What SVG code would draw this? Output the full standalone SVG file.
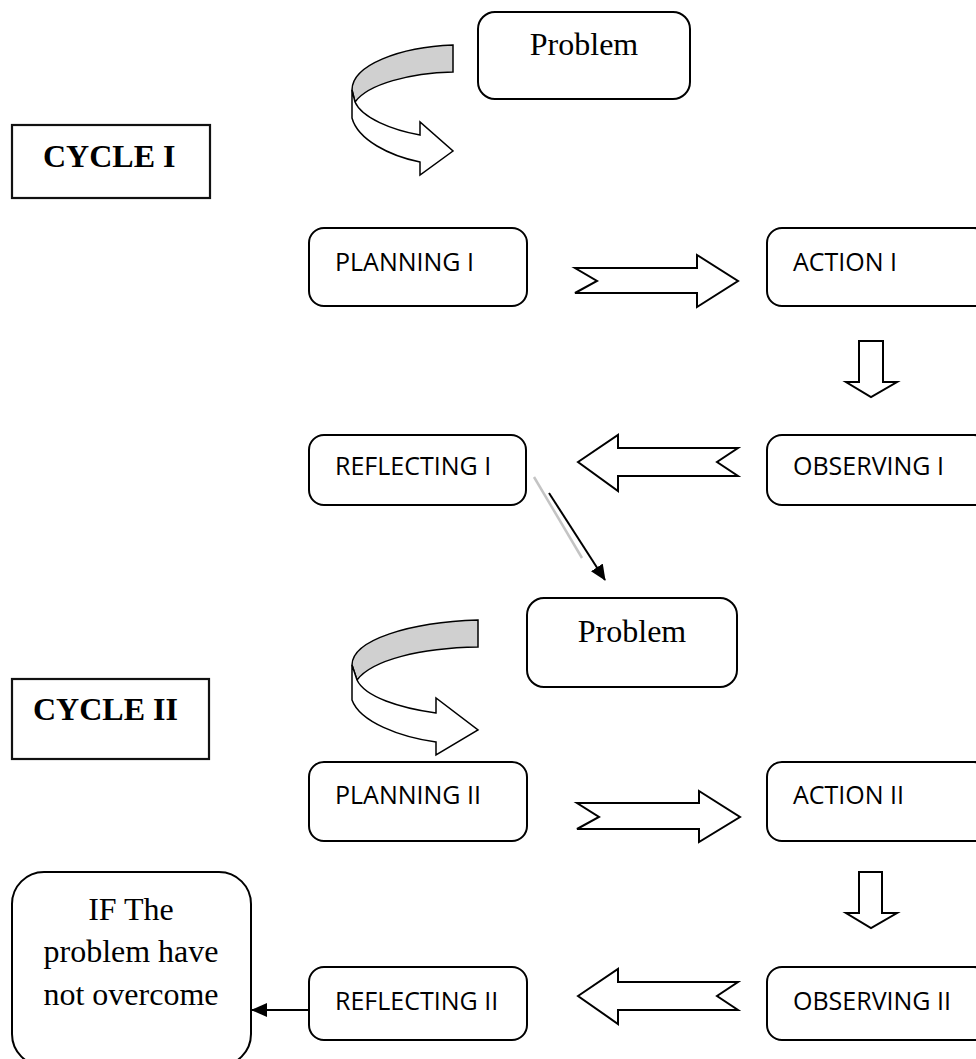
<svg xmlns="http://www.w3.org/2000/svg" width="976" height="1059" viewBox="0 0 976 1059">
<style>
.box{fill:#fff;stroke:#000;stroke-width:2}
.sq{fill:#fff;stroke:#111;stroke-width:2.2}
.lbl{font-family:"Open Sans","Noto Sans",sans-serif;font-size:25px;fill:#000}
.tnr{font-family:"Liberation Serif","Times New Roman",serif;font-size:32px;fill:#000}
.cyc{font-family:"Liberation Serif","Times New Roman",serif;font-size:32px;font-weight:bold;fill:#000}
.blk{fill:#fff;stroke:#000;stroke-width:2;stroke-linejoin:miter}
.band{fill:#d0d0d0;stroke:#000;stroke-width:1.5}
.rib{fill:#fff;stroke:#000;stroke-width:1.5}
</style>
<defs>
<marker id="ah" markerWidth="10" markerHeight="10" refX="9" refY="5" orient="auto" markerUnits="userSpaceOnUse" viewBox="0 0 10 10">
<path d="M0,0 L10,5 L0,10 Z" fill="#000"/>
</marker>
<marker id="ah2" markerWidth="16" markerHeight="14" refX="15" refY="7" orient="auto" markerUnits="userSpaceOnUse" viewBox="0 0 16 14">
<path d="M0,0 L16,7 L0,14 Z" fill="#000"/>
</marker>
</defs>

<g id="problem1">
<rect class="box" x="478" y="12" width="212" height="87" rx="17"/>
<text class="tnr" x="584" y="55" text-anchor="middle">Problem</text>
</g>
<g id="cycle1">
<rect class="sq" x="12" y="125" width="198" height="73"/>
<text class="cyc" x="43" y="167">CYCLE I</text>
</g>
<g id="planning1">
<rect class="box" x="309" y="228" width="218" height="78" rx="15"/>
<text class="lbl" x="335" y="271">PLANNING I</text>
</g>
<g id="action1">
<rect class="box" x="767" y="228" width="222" height="78" rx="15"/>
<text class="lbl" x="793" y="271">ACTION I</text>
</g>
<g id="reflecting1">
<rect class="box" x="309" y="435" width="217" height="70" rx="15"/>
<text class="lbl" x="335" y="475">REFLECTING I</text>
</g>
<g id="observing1">
<rect class="box" x="767" y="435" width="222" height="70" rx="15"/>
<text class="lbl" x="793" y="475">OBSERVING I</text>
</g>
<g id="problem2">
<rect class="box" x="527" y="598" width="210" height="89" rx="17"/>
<text class="tnr" x="632" y="642" text-anchor="middle">Problem</text>
</g>
<g id="cycle2">
<rect class="sq" x="12" y="679" width="197" height="80"/>
<text class="cyc" x="33" y="720">CYCLE II</text>
</g>
<g id="planning2">
<rect class="box" x="309" y="762" width="218" height="79" rx="15"/>
<text class="lbl" x="335" y="804">PLANNING II</text>
</g>
<g id="action2">
<rect class="box" x="767" y="762" width="222" height="79" rx="15"/>
<text class="lbl" x="793" y="804">ACTION II</text>
</g>
<g id="reflecting2">
<rect class="box" x="309" y="967" width="218" height="73" rx="15"/>
<text class="lbl" x="335" y="1010">REFLECTING II</text>
</g>
<g id="observing2">
<rect class="box" x="767" y="967" width="222" height="73" rx="15"/>
<text class="lbl" x="793" y="1010">OBSERVING II</text>
</g>
<g id="ifbox">
<rect class="box" x="12" y="872" width="239" height="194" rx="32"/>
<text class="tnr" x="131" y="920" text-anchor="middle">IF The</text>
<text class="tnr" x="131" y="962" text-anchor="middle">problem have</text>
<text class="tnr" x="131" y="1005" text-anchor="middle">not overcome</text>
</g>

<g id="connectors">
<!-- curved arrow 1 -->
<path class="band" d="M453,45 C400,47 352,65 352,90 L355,102 C368,84 410,73 453,72 Z"/>
<path class="rib" d="M352,90 L352,118 C358,140 390,156 420,162 L420,175 L453,151 L420,122 L420,135 C392,130 362,118 355,102 Z"/>
<!-- curved arrow 2 -->
<path class="band" d="M478,620 C410,622 352,640 352,665 L357,680 C372,660 420,648 478,647 Z"/>
<path class="rib" d="M352,665 L352,700 C360,722 400,737 436,742 L436,755 L478,730 L436,698 L436,713 C400,708 365,697 357,680 Z"/>
<!-- block arrows cycle 1 -->
<path class="blk" d="M575,268 L697,268 L697,255 L738,281 L697,307 L697,293 L575,293 L597,281 Z"/>
<path class="blk" d="M859,341 L883,341 L883,382 L897,382 L871,397 L846,382 L859,382 Z"/>
<path class="blk" d="M578,462 L618,435 L618,448 L738,448 L717,462 L738,476 L618,476 L618,491 Z"/>
<!-- diagonal arrow -->
<line x1="534" y1="477" x2="582" y2="558" stroke="#c4c4c4" stroke-width="2.5"/>
<line x1="549" y1="493" x2="605" y2="580" stroke="#000" stroke-width="2" marker-end="url(#ah2)"/>
<!-- block arrows cycle 2 -->
<path class="blk" d="M577,803 L699,803 L699,791 L740,817 L699,842 L699,829 L577,829 L599,817 Z"/>
<path class="blk" d="M859,872 L882,872 L882,913 L897,913 L871,928 L846,913 L859,913 Z"/>
<path class="blk" d="M578,996 L618,969 L618,982 L738,982 L717,996 L738,1010 L618,1010 L618,1024 Z"/>
<!-- reflecting II to IF -->
<line x1="309" y1="1010" x2="252" y2="1010" stroke="#000" stroke-width="2" marker-end="url(#ah2)"/>
</g>
</svg>
